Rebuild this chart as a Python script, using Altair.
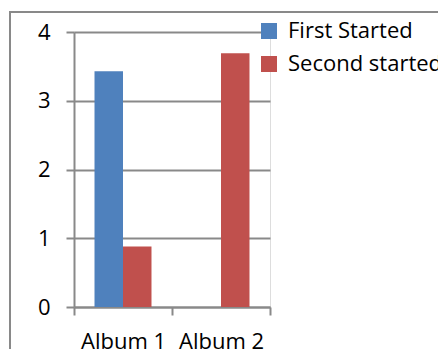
import altair as alt
import pandas as pd

albums = ["Album 1", "Album 2"]
series = ["First Started", "Second started"]
first_started = [3.43, 0.0]
second_started = [0.88, 3.69]
y_ticks = [0, 1, 2, 3, 4]
colors = ["#4F81BD", "#C0504D"]

rows = []
for i, a in enumerate(albums):
    rows.append({"album": a, "series": series[0], "value": first_started[i]})
    rows.append({"album": a, "series": series[1], "value": second_started[i]})
df = pd.DataFrame(rows)

FONT = "Open Sans"
FS = 22
GRAY = "#898989"

frame = alt.Chart(alt.Data(values=[{"a": 1}])).mark_rect(
    fill="white", fillOpacity=0, stroke=GRAY, strokeWidth=2
).encode(
    x=alt.value(-64), x2=alt.value(700), y=alt.value(-20), y2=alt.value(700)
)

bars = alt.Chart(df).mark_bar().encode(
    x=alt.X(
        "album:N",
        sort=albums,
        title=None,
        scale=alt.Scale(paddingInner=0, paddingOuter=0),
        axis=alt.Axis(
            labelAngle=0,
            labelFontSize=FS,
            labelFont=FONT,
            labelColor="black",
            labelPadding=16,
            tickBand="extent",
            tickSize=8,
            tickWidth=2,
            tickColor=GRAY,
            domainColor=GRAY,
            domainWidth=2,
            grid=False,
        ),
    ),
    xOffset=alt.XOffset(
        "series:N", sort=series,
        scale=alt.Scale(paddingInner=0, paddingOuter=0.72),
    ),
    y=alt.Y(
        "value:Q",
        title=None,
        scale=alt.Scale(domain=[0, 4], nice=False),
        axis=alt.Axis(
            values=y_ticks,
            labelFontSize=FS,
            labelFont=FONT,
            labelColor="black",
            labelPadding=16,
            tickSize=8,
            tickWidth=2,
            tickColor=GRAY,
            domainColor=GRAY,
            domainWidth=2,
            grid=True,
            gridColor=GRAY,
            gridWidth=2,
        ),
    ),
    color=alt.Color(
        "series:N",
        sort=series,
        scale=alt.Scale(domain=series, range=colors),
        legend=alt.Legend(
            title=None,
            orient="none",
            legendX=184,
            legendY=-12,
            symbolType="square",
            symbolSize=256,
            symbolStrokeWidth=0,
            labelFontSize=FS,
            labelFont=FONT,
            labelColor="black",
            labelOffset=8,
            rowPadding=11,
            labelLimit=400,
        ),
    ),
)

chart = alt.layer(frame, bars).properties(
    width=196,
    height=275,
    padding={"left": 74, "top": 32, "right": 168, "bottom": 42},
    autosize=alt.AutoSizeParams(type="none"),
).configure_view(stroke=None).configure(background="white")

chart.save("out.html", embed_options={"renderer": "svg", "actions": False})
